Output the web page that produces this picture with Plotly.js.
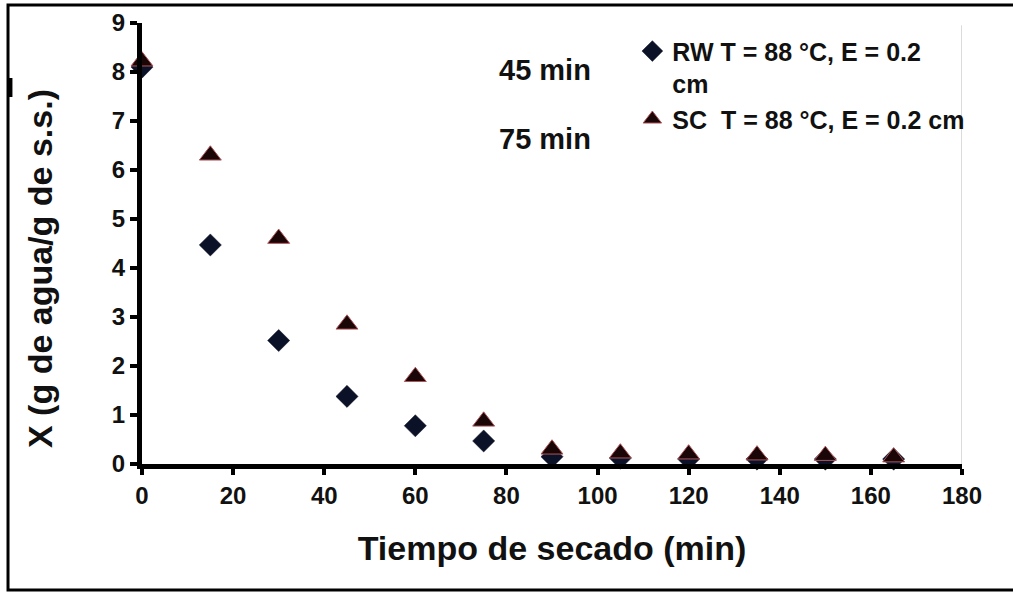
<!DOCTYPE html>
<html>
<head>
<meta charset="utf-8">
<script src="https://cdn.plot.ly/plotly-3.0.1.min.js"></script>
<style>
html,body{margin:0;padding:0;background:#fff;}
#chart{width:1013px;height:592px;}
</style>
</head>
<body>
<div id="chart"></div>
<script>
// Data
const timeMin = [0, 15, 30, 45, 60, 75, 90, 105, 120, 135, 150, 165];
const rwValues = [8.1, 4.47, 2.52, 1.38, 0.78, 0.47, 0.15, 0.12, 0.1, 0.1, 0.1, 0.1];
const scValues = [8.22, 6.3, 4.6, 2.85, 1.78, 0.87, 0.3, 0.22, 0.2, 0.18, 0.17, 0.14];
const rwName = "RW T = 88 °C, E = 0.2<br>cm";
const scName = "SC  T = 88 °C, E = 0.2 cm";
const xTicks = [0, 20, 40, 60, 80, 100, 120, 140, 160, 180];
const yTicks = [0, 1, 2, 3, 4, 5, 6, 7, 8, 9];
const noteLabels = ["45 min", "75 min"];
const noteX = [88.5, 88.5];
const noteY = [8.04, 6.63];
const yTitleText = "X (g de agua/g de s.s.)";
const xTitleText = "Tiempo de secado (min)";

const FONT = "Liberation Sans, Arial, sans-serif";

const traces = [
  {
    x: timeMin, y: rwValues, name: rwName, type: "scatter", mode: "markers",
    marker: {symbol: "diamond", size: 17, color: "#0b1126", line: {color: "#0b1126", width: 0.5}},
    cliponaxis: false
  },
  {
    x: timeMin, y: scValues, name: scName, type: "scatter", mode: "markers",
    marker: {symbol: "triangle-up", size: 19, color: "#1a0607", line: {color: "#b0555a", width: 1}},
    cliponaxis: false
  }
];

const annotations = noteLabels.map((t, i) => ({
  x: noteX[i], y: noteY[i], xref: "x", yref: "y", text: t, showarrow: false,
  font: {family: FONT, size: 29, color: "#111", weight: "bold"}
}));
// y-axis title (placed as rotated text, offset like the original)
annotations.push({
  x: -0.1244, y: 0.4444, xref: "paper", yref: "paper", text: yTitleText,
  textangle: -90, showarrow: false, xanchor: "center", yanchor: "middle",
  font: {family: FONT, size: 34, color: "#111", weight: "bold"}
});

const layout = {
  width: 1013, height: 592,
  margin: {l: 142, r: 51, t: 23, b: 128, pad: 0},
  paper_bgcolor: "#fff", plot_bgcolor: "#fff",
  showlegend: true,
  legend: {
    x: 0.598, y: 0.988, xanchor: "left", yanchor: "top",
    bgcolor: "rgba(0,0,0,0)", valign: "top",
    font: {family: FONT, size: 25, color: "#111", weight: "bold"},
    tracegroupgap: 0
  },
  xaxis: {
    range: [0, 180], tickvals: xTicks, ticktext: xTicks.map(String),
    showgrid: false, zeroline: false,
    showline: true, linecolor: "#000", linewidth: 5,
    ticks: "outside", ticklen: 6, tickwidth: 4, tickcolor: "#000",
    tickfont: {family: FONT, size: 24, color: "#111", weight: "bold"},
    title: {text: xTitleText, standoff: 30,
            font: {family: FONT, size: 34, color: "#111", weight: "bold"}}
  },
  yaxis: {
    range: [0, 9], tickvals: yTicks, ticktext: yTicks.map(String),
    showgrid: false, zeroline: false,
    showline: true, linecolor: "#000", linewidth: 5,
    ticks: "outside", ticklen: 7, tickwidth: 4, tickcolor: "#000",
    tickfont: {family: FONT, size: 24, color: "#111", weight: "bold"}
  },
  annotations: annotations,
  shapes: [
    {type: "rect", xref: "paper", yref: "paper",
     x0: -0.1634, x1: 1.09, y0: -0.2857, y1: 1.0408,
     line: {color: "#000", width: 3}, fillcolor: "rgba(0,0,0,0)", layer: "below"},
    {type: "line", xref: "x", yref: "paper", x0: 180, x1: 180, y0: 0, y1: 0.995,
     line: {color: "#cfcfcf", width: 1.5}, layer: "below"},
    {type: "rect", xref: "paper", yref: "paper",
     x0: -0.1622, x1: -0.158, y0: (464 - 97) / 441, y1: (464 - 78) / 441,
     line: {width: 0}, fillcolor: "#000"}
  ]
};

Plotly.newPlot("chart", traces, layout, {displayModeBar: false, staticPlot: true});
</script>
</body>
</html>
